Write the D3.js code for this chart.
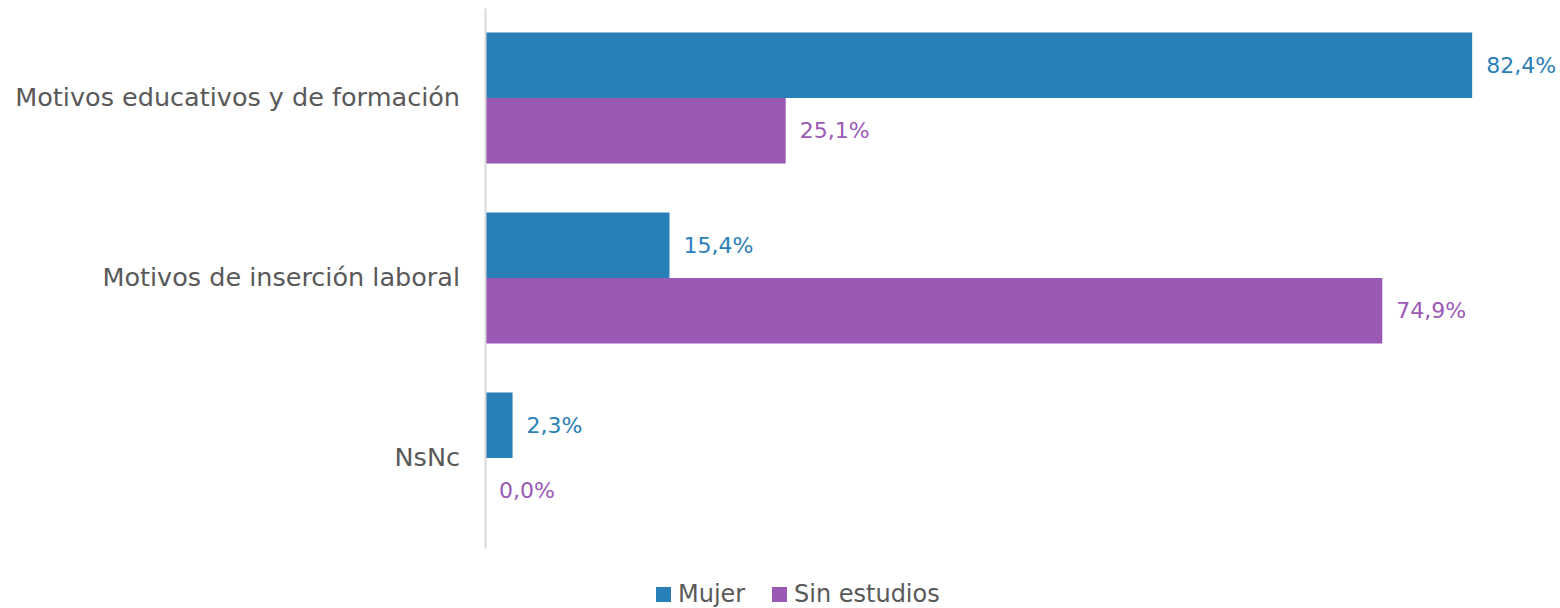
<!DOCTYPE html>
<html>
<head>
<meta charset="utf-8">
<script src="https://cdn.jsdelivr.net/npm/d3@7"></script>
<style>
  body { margin: 0; background: #fff; }
  text { font-family: "DejaVu Sans", sans-serif; }
</style>
</head>
<body>
<script>
// data
var categories = ["Motivos educativos y de formación", "Motivos de inserción laboral", "NsNc"];
var seriesNames = ["Mujer", "Sin estudios"];
var mujer = [82.4, 15.4, 2.3];
var sinEstudios = [25.1, 74.9, 0.0];
var colors = ["#2980b9", "#9b59b6"];

var width = 1560, height = 608;
var margin = {top: 8, right: 0, bottom: 60, left: 485};

var svg = d3.select("body").append("svg")
    .attr("width", width)
    .attr("height", height);

var x = d3.scaleLinear()
    .domain([0, 90])
    .range([margin.left, margin.left + 90 * 11.98]);

var y = d3.scaleBand()
    .domain(categories)
    .range([margin.top, height - margin.bottom])
    .paddingInner(0.272)
    .paddingOuter(0.136);

var y1 = d3.scaleBand()
    .domain(seriesNames)
    .range([0, y.bandwidth()]);

var rows = categories.map(function(c, i) {
    return {cat: c, vals: [mujer[i], sinEstudios[i]]};
});

var groups = svg.selectAll(".grp")
    .data(rows)
    .enter().append("g")
    .attr("class", "grp")
    .attr("transform", function(d) { return "translate(0," + y(d.cat) + ")"; });

groups.selectAll("rect")
    .data(function(d) { return d.vals.map(function(v, j) { return {v: v, s: seriesNames[j], j: j}; }); })
    .enter().append("rect")
    .attr("x", x(0))
    .attr("y", function(d) { return y1(d.s); })
    .attr("width", function(d) { return x(d.v) - x(0); })
    .attr("height", y1.bandwidth())
    .attr("fill", function(d) { return colors[d.j]; });

groups.selectAll(".val")
    .data(function(d) { return d.vals.map(function(v, j) { return {v: v, s: seriesNames[j], j: j}; }); })
    .enter().append("text")
    .attr("class", "val")
    .attr("x", function(d) { return x(d.v) + 14; })
    .attr("y", function(d) { return y1(d.s) + y1.bandwidth() / 2; })
    .attr("dy", "0.35em")
    .attr("font-size", 22)
    .attr("fill", function(d) { return colors[d.j]; })
    .text(function(d) { return d.v.toFixed(1).replace(".", ",") + "%"; });

// category axis
var yAxis = d3.axisLeft(y).tickSize(0).tickPadding(25);
var ax = svg.append("g")
    .attr("transform", "translate(" + margin.left + ",0)")
    .call(yAxis);
ax.select(".domain").attr("stroke", "#d9d9d9").attr("stroke-width", 2);
ax.selectAll("text")
    .attr("font-size", 25.5)
    .attr("fill", "#595959")
    .style("font-family", "'DejaVu Sans', sans-serif");

// legend
var legend = svg.append("g").attr("transform", "translate(656,0)");
var legX = [0, 116];
seriesNames.forEach(function(s, i) {
    legend.append("rect")
        .attr("x", legX[i])
        .attr("y", 587)
        .attr("width", 15)
        .attr("height", 15)
        .attr("fill", colors[i]);
    legend.append("text")
        .attr("x", legX[i] + 22)
        .attr("y", 594)
        .attr("dy", "0.35em")
        .attr("font-size", 24)
        .attr("fill", "#595959")
        .text(s);
});
</script>
</body>
</html>
